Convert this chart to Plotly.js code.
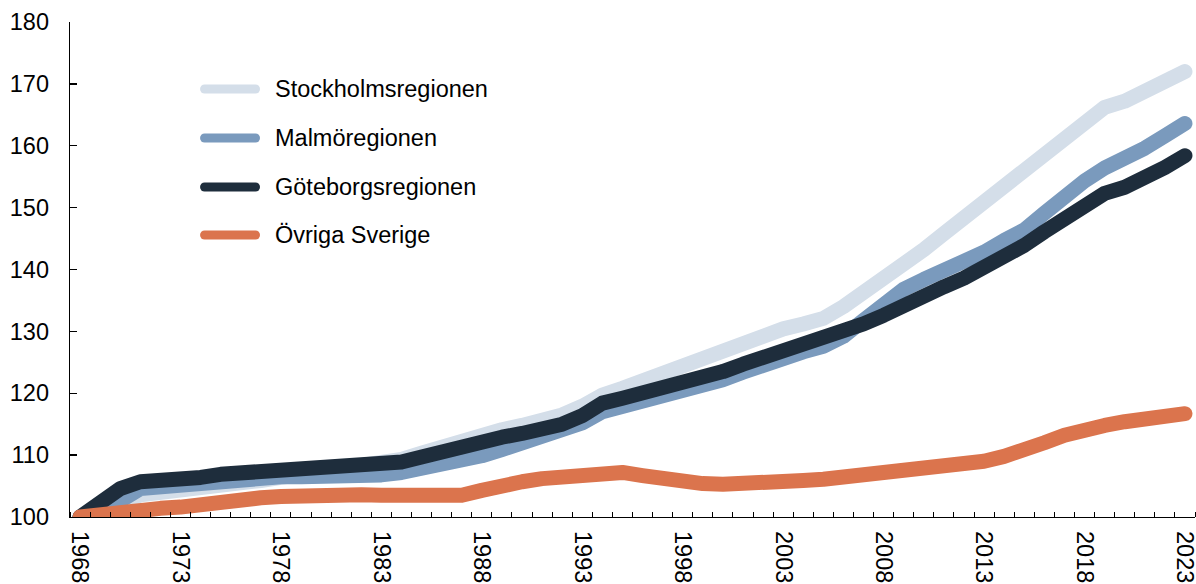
<!DOCTYPE html>
<html>
<head>
<meta charset="utf-8">
<script src="https://cdn.plot.ly/plotly-3.0.1.min.js"></script>
<style>
  html, body { margin: 0; padding: 0; background: #fff; }
  #chart { width: 1196px; height: 584px; }
  .js-line { stroke-linecap: round; stroke-linejoin: round; }
  .shapelayer path { stroke-linecap: round; }
</style>
</head>
<body>
<div id="chart"></div>
<script>
const years = [1968,1969,1970,1971,1972,1973,1974,1975,1976,1977,1978,1979,1980,1981,1982,1983,1984,1985,1986,1987,1988,1989,1990,1991,1992,1993,1994,1995,1996,1997,1998,1999,2000,2001,2002,2003,2004,2005,2006,2007,2008,2009,2010,2011,2012,2013,2014,2015,2016,2017,2018,2019,2020,2021,2022,2023];

const stockholm = [100,100.9,102.0,103.6,103.9,104.1,104.6,105.2,105.6,105.9,106.4,106.9,107.3,107.7,108.1,108.7,109.3,110.3,111.4,112.4,113.3,114.1,114.8,115.6,116.5,117.9,119.7,120.8,122.0,123.3,124.5,125.8,127.2,128.5,129.5,130.4,131.2,132.1,134.0,136.2,138.5,141.0,143.2,145.8,148.3,150.7,153.0,155.5,158.1,160.9,163.6,166.2,167.2,169.0,170.7,172.0];

const malmo = [100,101.2,102.6,104.6,104.9,105.2,105.6,106.0,106.2,106.4,106.5,106.5,106.5,106.5,106.6,106.8,107.2,107.8,108.4,109.1,109.9,110.9,111.9,112.9,114.0,115.2,117.0,117.8,118.5,119.2,120.1,121.0,122.2,123.4,124.6,125.9,126.7,127.6,129.2,131.8,134.6,136.8,138.4,139.7,141.2,142.8,144.7,146.4,149.1,151.8,154.3,156.4,157.8,159.6,161.6,163.6];

const goteborg = [100,102.4,104.6,105.7,105.8,105.9,106.4,106.9,107.1,107.2,107.4,107.6,107.7,107.8,107.9,108.2,108.9,109.7,110.6,111.5,112.2,112.9,113.5,114.2,115.0,116.4,118.4,119.2,120.0,120.8,121.5,122.2,123.5,124.7,125.7,127.0,128.0,128.9,129.9,131.2,132.6,134.3,135.9,137.2,138.6,140.2,142.1,143.9,146.1,148.3,150.4,152.3,153.3,154.6,156.5,158.4];

const ovriga = [100,100.5,101.0,101.1,101.4,101.6,102.1,102.5,102.8,103.1,103.3,103.5,103.6,103.6,103.6,103.5,103.4,103.3,103.3,103.5,104.3,105.2,105.7,106.2,106.5,106.8,107.2,107.2,106.7,106.1,105.7,105.4,105.3,105.3,105.5,105.7,105.9,106.1,106.4,106.7,107.1,107.4,107.6,107.9,108.3,109.0,109.8,110.6,112.0,113.2,114.2,114.8,115.4,115.8,116.6,116.7];

const seriesNames = ["Stockholmsregionen", "Malmöregionen", "Göteborgsregionen", "Övriga Sverige"];
const seriesColors = ["#d4dee9", "#7a9abd", "#1e2d3c", "#db744d"];
const seriesValues = [stockholm, malmo, goteborg, ovriga];

const tickYears = [1968,1973,1978,1983,1988,1993,1998,2003,2008,2013,2018,2023];
const yTicks = [100,110,120,130,140,150,160,170,180];

const FONT = "Liberation Sans, Arial, sans-serif";

const traces = seriesValues.map((vals, i) => ({
  type: "scatter",
  mode: "lines",
  x: years,
  y: vals,
  name: seriesNames[i],
  line: { color: seriesColors[i], width: 15, shape: "linear" },
  hoverinfo: "skip",
  showlegend: false
}));

// custom legend (paper coordinates)
const legY = [0.8646, 0.7657, 0.6667, 0.5697];
const shapes = seriesNames.map((n, i) => ({
  type: "line", xref: "paper", yref: "paper",
  x0: 0.1196, x1: 0.1649, y0: legY[i], y1: legY[i],
  line: { color: seriesColors[i], width: 9 }
}));
const annotations = seriesNames.map((n, i) => ({
  xref: "paper", yref: "paper", x: 0.1808, y: legY[i],
  xanchor: "left", yanchor: "middle", showarrow: false,
  text: n, font: { family: FONT, size: 23.5, color: "#000" }
}));

const layout = {
  width: 1196, height: 584,
  margin: { l: 70, r: 1, t: 22, b: 67 },
  paper_bgcolor: "#fff", plot_bgcolor: "#fff",
  font: { family: FONT, size: 23.5, color: "#000" },
  xaxis: {
    range: [1967.5, 2023.5],
    tickmode: "array", tickvals: tickYears, ticktext: tickYears.map(String),
    tickangle: 90,
    ticks: "", showgrid: false, zeroline: false,
    showline: true, linecolor: "#000", linewidth: 1.3,
    ticklabelstandoff: 8,
    ticklabeloverflow: "allow",
    tickfont: { family: FONT, size: 23.5, color: "#000" },
    minor: { ticks: "inside", ticklen: 5, tickwidth: 1, tickcolor: "#000", tick0: 1967.5, dtick: 1, showgrid: false }
  },
  yaxis: {
    range: [100, 180],
    tickmode: "array", tickvals: yTicks,
    ticks: "inside", ticklen: 7, tickwidth: 1.3, tickcolor: "#000",
    showgrid: false, zeroline: false,
    showline: true, linecolor: "#000", linewidth: 1.3,
    ticklabelstandoff: 15,
    ticklabeloverflow: "allow",
    tickfont: { family: FONT, size: 23.5, color: "#000" }
  },
  shapes: shapes,
  annotations: annotations,
  showlegend: false
};

Plotly.newPlot("chart", traces, layout, { staticPlot: true, displayModeBar: false });
</script>
</body>
</html>
